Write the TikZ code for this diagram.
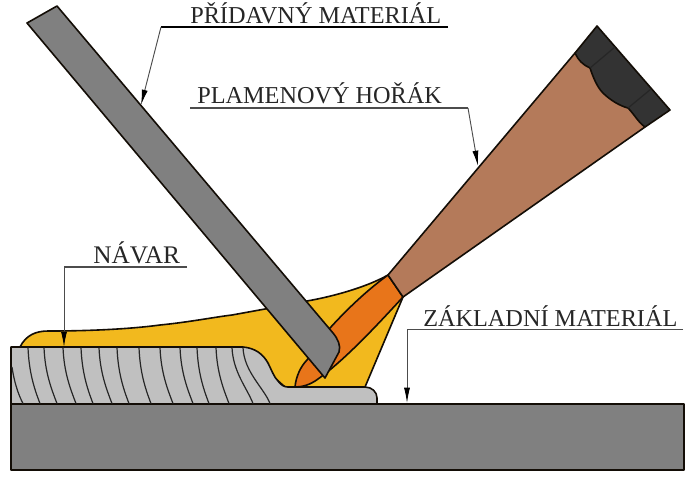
\documentclass[tikz,border=0pt]{standalone}
\usepackage{fontspec}
\setmainfont{Liberation Serif}
\usetikzlibrary{arrows.meta}
\definecolor{basegray}{HTML}{808080}
\definecolor{beadgray}{HTML}{C0C0C0}
\definecolor{flameyellow}{HTML}{F2B91E}
\definecolor{flameorange}{HTML}{E8751A}
\definecolor{torchbrown}{HTML}{B47A5A}
\definecolor{tipblack}{HTML}{333333}
\tikzset{
  part/.style={draw=black!90!brown,line width=1.2pt,line join=round},
  seam/.style={draw=black!85,line width=0.9pt},
  labeltext/.style={inner sep=0pt,anchor=base west,font=\fontsize{18.2}{20}\selectfont,text=black!85},
  rule/.style={draw=black!70,line width=0.8pt},
  leader/.style={draw=black!70,line width=0.7pt,-{Latex[length=11.5pt,width=4.5pt,black]}}
}
\begin{document}
\begin{tikzpicture}[x=0.75pt,y=-0.75pt]
\useasboundingbox[fill=white] (0,0) rectangle (691,476);
% base
\draw[part,fill=basegray] (11,404) rectangle (684,470);
% yellow flame
\draw[part,fill=flameyellow] (20,347) .. controls (26,335) and (36,331) .. (48,331)
  .. controls (90,331) and (130,329) .. (160,325)
  .. controls (190,322) and (215,317) .. (232,315)
  -- (265,309) -- (307,301)
  .. controls (330,297) and (365,288) .. (388,275)
  -- (403,297) -- (365,387) -- (285,387) -- (240,347) -- cycle;
% orange flame
\draw[part,fill=flameorange] (388,275) -- (403,297)
  .. controls (380,322) and (345,360) .. (318,379)
  .. controls (310,385) and (302,387) .. (295,387)
  .. controls (296,376) and (301,366) .. (307,360)
  -- (330,328)
  .. controls (350,306) and (370,288) .. (388,275) -- cycle;
% weld bead
\draw[part,fill=beadgray] (11,347) -- (243,347)
  .. controls (255,348) and (263,354) .. (268,363)
  .. controls (272,371) and (274,377) .. (278,381)
  .. controls (281,385) and (284,387) .. (288,387)
  -- (365,387)
  .. controls (372,387) and (377,392) .. (377,398)
  -- (377,404) -- (11,404) -- cycle;
\foreach \xa/\xb in {28/40,44/57,63/76,81/93,99/112,117/129,139/151,160/173,180/193,197/209,216/229,232/253,243/270}
  \draw[seam] (\xa,347.5) .. controls (\xa+1,372) and (\xb-6,388) .. (\xb,403.5);
\draw[seam] (12,367) .. controls (14,381) and (18,394) .. (23,403.5);
% torch
\draw[part,fill=torchbrown] (388,275) -- (403,297) -- (645,127) -- (600,60) -- (575,53) -- cycle;
\draw[part,fill=tipblack] (575,53) -- (597,26) -- (670,110) -- (645,127)
  .. controls (638,122) and (634,114) .. (628,108)
  .. controls (620,106) and (610,100) .. (603,93)
  .. controls (597,87) and (593,77) .. (590,68)
  .. controls (583,65) and (578,60) .. (575,53) -- cycle;
\draw[seam] (590,68) -- (615,47);
\draw[seam] (628,108) -- (651,89);
% filler rod
\draw[part,fill=basegray] (27,23) -- (57,6) -- (333,333)
  .. controls (338,339) and (341,346) .. (339,352)
  -- (325,378) -- cycle;
% labels
\node[labeltext] (t1) at (190,23) {PŘÍDAVNÝ MATERIÁL};
\node[labeltext] (t2) at (197,103) {PLAMENOVÝ HOŘÁK};
\node[labeltext,font=\fontsize{19}{20}\selectfont] (t3) at (93,263) {NÁVAR};
\node[labeltext] (t4) at (423,326) {ZÁKLADNÍ MATERIÁL};
% leaders
\coordinate (c1a) at (448,27); \coordinate (c1b) at (161,27); \coordinate (c1c) at (141,105);
\coordinate (c2a) at (190,108); \coordinate (c2b) at (468,108); \coordinate (c2c) at (478,166);
\coordinate (c3a) at (187,267); \coordinate (c3b) at (64,267); \coordinate (c3c) at (64,347);
\coordinate (c4a) at (683,329.5); \coordinate (c4b) at (407,329.5); \coordinate (c4c) at (407,403);
\draw[rule,draw=black,line width=1pt] (c1a) -- (c1b);
\draw[leader] (c1b) -- (c1c);
\draw[rule] (c2a) -- (c2b);
\draw[leader] (c2b) -- (c2c);
\draw[rule] (c3a) -- (c3b);
\draw[leader] (c3b) -- (c3c);
\draw[rule] (c4a) -- (c4b);
\draw[leader] (c4b) -- (c4c);
\end{tikzpicture}
\end{document}
